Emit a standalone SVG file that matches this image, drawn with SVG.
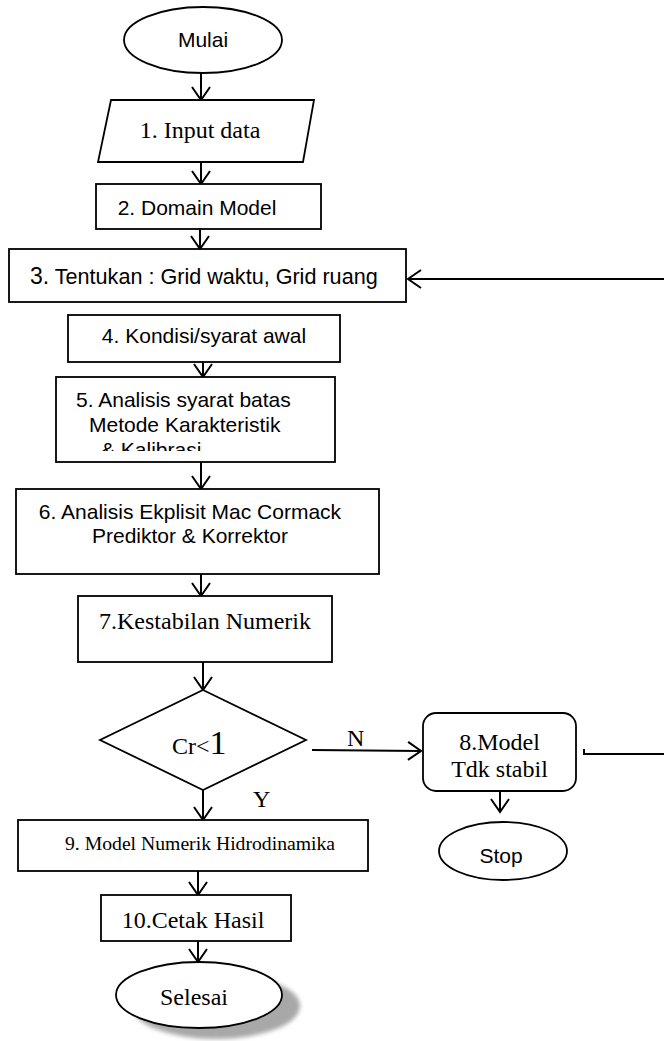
<svg xmlns="http://www.w3.org/2000/svg" width="664" height="1041" viewBox="0 0 664 1041">
<style>
.shape{fill:#fff;stroke:#000;stroke-width:1.8}
.ln{fill:none;stroke:#000;stroke-width:2;marker-end:url(#ah)}
.plain{fill:none;stroke:#000;stroke-width:2}
.sans{font-family:"Liberation Sans",Arial,sans-serif;font-size:21px;fill:#000}
.serif{font-family:"Liberation Serif","Times New Roman",serif;font-size:24px;fill:#000}
</style>
<defs>
<marker id="ah" markerUnits="userSpaceOnUse" viewBox="-16 -11 18 22" markerWidth="18" markerHeight="22" refX="0" refY="0" orient="auto">
<path d="M-13,-9 L0,0 L-13,9" fill="none" stroke="#000" stroke-width="2"/>
</marker>
<clipPath id="c5"><rect x="56" y="377" width="279" height="74"/></clipPath>
<filter id="blur" x="-20%" y="-20%" width="140%" height="140%"><feGaussianBlur stdDeviation="2"/></filter>
</defs>

<g id="connectors">
<line class="ln" x1="201" y1="73" x2="201" y2="100"/>
<line class="ln" x1="201" y1="162" x2="201" y2="184"/>
<line class="ln" x1="200" y1="229" x2="200" y2="249"/>
<line class="ln" x1="664" y1="279" x2="408" y2="279"/>
<line class="ln" x1="203" y1="362" x2="203" y2="377"/>
<line class="ln" x1="201" y1="462" x2="201" y2="489"/>
<line class="ln" x1="201" y1="574" x2="201" y2="596"/>
<line class="ln" x1="203" y1="662" x2="203" y2="690"/>
<line class="ln" x1="203" y1="790" x2="203" y2="820"/>
<line class="ln" x1="312" y1="750" x2="421" y2="751"/>
<line class="ln" x1="500" y1="791" x2="500" y2="812"/>
<polyline class="plain" points="584,749 584,754 664,754"/>
<line class="ln" x1="198" y1="871" x2="198" y2="895"/>
<line class="ln" x1="198" y1="941" x2="198" y2="962"/>
<text class="serif" x="347" y="746">N</text>
<text class="serif" x="253" y="807">Y</text>
</g>

<g id="mulai">
<ellipse class="shape" cx="203" cy="40" rx="79" ry="33"/>
<text class="sans" x="203" y="47" text-anchor="middle">Mulai</text>
</g>

<g id="input">
<polygon class="shape" points="111,100 314,100 303,162 98,162"/>
<text class="serif" x="200" y="138" text-anchor="middle">1. Input data</text>
</g>

<g id="domain">
<rect class="shape" x="96" y="184" width="225" height="45"/>
<text class="sans" x="197" y="215" text-anchor="middle">2. Domain Model</text>
</g>

<g id="grid">
<rect class="shape" x="9" y="249" width="397" height="53"/>
<text class="sans" x="30" y="284" style="font-size:21.6px"><tspan style="font-size:23px">3.</tspan> Tentukan : Grid waktu, Grid ruang</text>
</g>

<g id="kondisi">
<rect class="shape" x="68" y="315" width="272" height="47"/>
<text class="sans" x="204" y="343" text-anchor="middle">4. Kondisi/syarat awal</text>
</g>

<g id="batas">
<rect class="shape" x="56" y="377" width="279" height="85"/>
<g clip-path="url(#c5)">
<text class="sans" x="76" y="407">5. Analisis syarat batas</text>
<text class="sans" x="89" y="432">Metode Karakteristik</text>
<text class="sans" x="101" y="457">&amp; Kalibrasi</text>
</g>
</g>

<g id="maccormack">
<rect class="shape" x="16" y="489" width="363" height="85"/>
<text class="sans" x="190" y="519" text-anchor="middle">6. Analisis Ekplisit Mac Cormack</text>
<text class="sans" x="190" y="543" text-anchor="middle">Prediktor &amp; Korrektor</text>
</g>

<g id="kestabilan">
<rect class="shape" x="78" y="596" width="254" height="66"/>
<text class="serif" x="205" y="629" text-anchor="middle">7.Kestabilan Numerik</text>
</g>

<g id="decision">
<polygon class="shape" points="203,690 306,740 203,790 100,740"/>
<text class="serif" x="172" y="754">Cr&lt;<tspan style="font-size:34px">1</tspan></text>
</g>

<g id="tdkstabil">
<rect class="shape" x="423" y="713" width="153" height="78" rx="13" ry="13"/>
<text class="serif" x="499.5" y="750" text-anchor="middle">8.Model</text>
<text class="serif" x="499.5" y="777" text-anchor="middle">Tdk stabil</text>
</g>

<g id="stop">
<ellipse class="shape" cx="503" cy="851" rx="64" ry="29"/>
<text class="sans" x="501" y="863" text-anchor="middle">Stop</text>
</g>

<g id="hidrodinamika">
<rect class="shape" x="18" y="820" width="350" height="51"/>
<text class="serif" x="65" y="850" style="font-size:19.7px">9. Model Numerik Hidrodinamika</text>
</g>

<g id="cetak">
<rect class="shape" x="101" y="895" width="190" height="46"/>
<text class="serif" x="193" y="928" text-anchor="middle">10.Cetak Hasil</text>
</g>

<g id="selesai">
<ellipse cx="216" cy="1006" rx="84" ry="33" fill="#a8a8a8" filter="url(#blur)"/>
<ellipse class="shape" cx="199" cy="995" rx="83" ry="33"/>
<text class="serif" x="194" y="1005" text-anchor="middle">Selesai</text>
</g>
</svg>
